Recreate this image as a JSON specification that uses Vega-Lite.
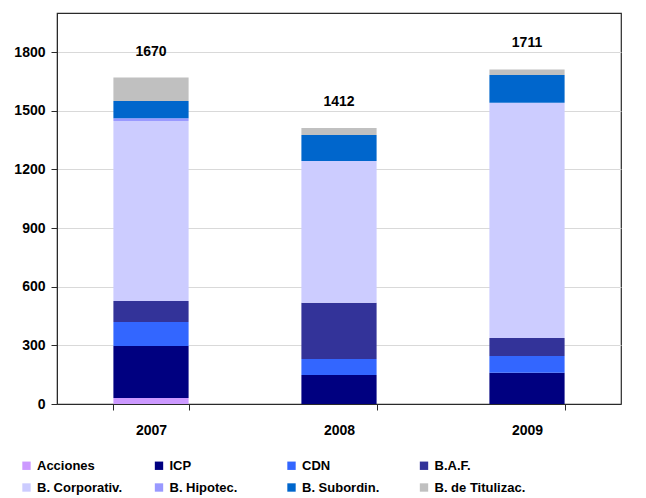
{
  "$schema": "https://vega.github.io/schema/vega-lite/v6.json",
  "autosize": "none",
  "width": 564,
  "height": 391,
  "padding": {"left": 57, "top": 13, "right": 25, "bottom": 94},
  "background": "white",
  "config": {
    "font": "Liberation Sans",
    "view": {"stroke": "#2a2a2a", "strokeWidth": 1.2},
    "axis": {
      "labelFont": "Liberation Sans",
      "labelFontWeight": "bold",
      "labelFontSize": 14,
      "labelColor": "#000000",
      "domainColor": "#2a2a2a",
      "tickColor": "#2a2a2a",
      "title": null
    },
    "legend": {
      "labelFont": "Liberation Sans",
      "labelFontWeight": "bold",
      "labelFontSize": 13,
      "labelColor": "#000000"
    }
  },
  "data": {
    "values": [
      {"anio": "2007", "serie": "Acciones", "orden": 1, "valor": 31},
      {"anio": "2007", "serie": "ICP", "orden": 2, "valor": 266},
      {"anio": "2007", "serie": "CDN", "orden": 3, "valor": 122},
      {"anio": "2007", "serie": "B.A.F.", "orden": 4, "valor": 108},
      {"anio": "2007", "serie": "B. Corporativ.", "orden": 5, "valor": 920},
      {"anio": "2007", "serie": "B. Hipotec.", "orden": 6, "valor": 14},
      {"anio": "2007", "serie": "B. Subordin.", "orden": 7, "valor": 89},
      {"anio": "2007", "serie": "B. de Titulizac.", "orden": 8, "valor": 120},
      {"anio": "2008", "serie": "Acciones", "orden": 1, "valor": 0},
      {"anio": "2008", "serie": "ICP", "orden": 2, "valor": 148},
      {"anio": "2008", "serie": "CDN", "orden": 3, "valor": 82},
      {"anio": "2008", "serie": "B.A.F.", "orden": 4, "valor": 288},
      {"anio": "2008", "serie": "B. Corporativ.", "orden": 5, "valor": 725},
      {"anio": "2008", "serie": "B. Hipotec.", "orden": 6, "valor": 0},
      {"anio": "2008", "serie": "B. Subordin.", "orden": 7, "valor": 133},
      {"anio": "2008", "serie": "B. de Titulizac.", "orden": 8, "valor": 36},
      {"anio": "2009", "serie": "Acciones", "orden": 1, "valor": 0},
      {"anio": "2009", "serie": "ICP", "orden": 2, "valor": 160},
      {"anio": "2009", "serie": "CDN", "orden": 3, "valor": 85},
      {"anio": "2009", "serie": "B.A.F.", "orden": 4, "valor": 93},
      {"anio": "2009", "serie": "B. Corporativ.", "orden": 5, "valor": 1203},
      {"anio": "2009", "serie": "B. Hipotec.", "orden": 6, "valor": 0},
      {"anio": "2009", "serie": "B. Subordin.", "orden": 7, "valor": 142},
      {"anio": "2009", "serie": "B. de Titulizac.", "orden": 8, "valor": 28}
    ]
  },
  "encoding": {
    "x": {
      "field": "anio",
      "type": "nominal",
      "scale": {"paddingInner": 0.6, "paddingOuter": 0.3},
      "axis": {
        "labelAngle": 0,
        "tickBand": "extent",
        "tickSize": 6,
        "labelPadding": 13,
        "grid": false
      }
    }
  },
  "layer": [
    {
      "mark": {"type": "bar"},
      "encoding": {
        "y": {
          "field": "valor",
          "type": "quantitative",
          "aggregate": "sum",
          "stack": "zero",
          "scale": {"domain": [0, 2000], "nice": false},
          "axis": {
            "values": [0, 300, 600, 900, 1200, 1500, 1800],
            "format": "d",
            "tickSize": 6,
            "labelPadding": 6,
            "gridColor": "#d9d9d9",
            "gridWidth": 1
          }
        },
        "color": {
          "field": "serie",
          "type": "nominal",
          "sort": ["Acciones", "ICP", "CDN", "B.A.F.", "B. Corporativ.", "B. Hipotec.", "B. Subordin.", "B. de Titulizac."],
          "scale": {
            "domain": ["Acciones", "ICP", "CDN", "B.A.F.", "B. Corporativ.", "B. Hipotec.", "B. Subordin.", "B. de Titulizac."],
            "range": ["#CC99FF", "#000080", "#3366FF", "#333399", "#CCCCFF", "#9999FF", "#0066CC", "#C0C0C0"]
          },
          "legend": {
            "title": null,
            "orient": "none",
            "legendX": -37,
            "legendY": 446,
            "direction": "horizontal",
            "columns": 4,
            "gridAlign": "all",
            "columnPadding": 24.5,
            "rowPadding": 8,
            "symbolType": "square",
            "symbolSize": 70,
            "symbolStrokeWidth": 0,
            "labelOffset": 4
          }
        },
        "order": {"field": "orden", "type": "quantitative"}
      }
    },
    {
      "mark": {"type": "text", "dy": -19, "baseline": "bottom", "fontWeight": "bold", "fontSize": 14, "font": "Liberation Sans", "color": "#000000"},
      "encoding": {
        "y": {"field": "valor", "type": "quantitative", "aggregate": "sum"},
        "text": {"field": "valor", "type": "quantitative", "aggregate": "sum"}
      }
    }
  ]
}
